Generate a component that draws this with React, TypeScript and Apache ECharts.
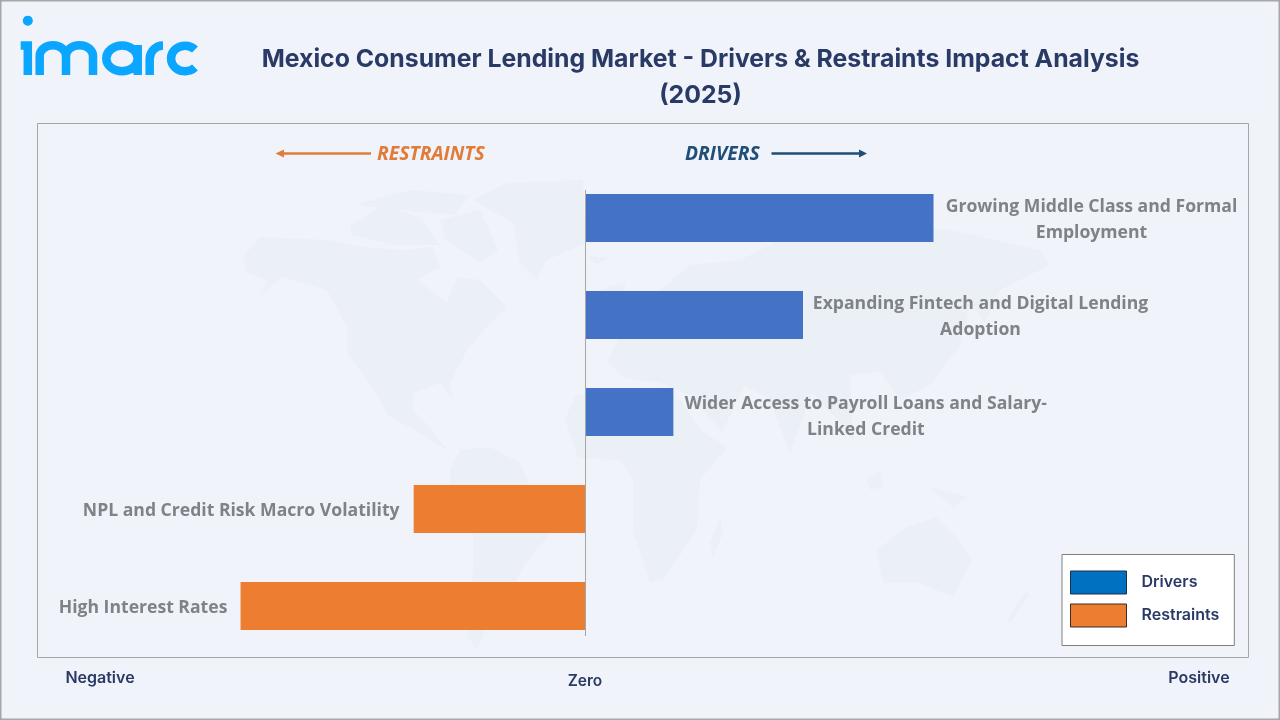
import React, { useEffect, useRef } from "react";
import * as echarts from "echarts";

const TITLE = "Mexico Consumer Lending Market - Drivers & Restraints Impact Analysis\n(2025)";
const categories = [
  "Growing Middle Class and Formal\nEmployment",
  "Expanding Fintech and Digital Lending\nAdoption",
  "Wider Access to Payroll Loans and Salary-\nLinked Credit",
  "NPL and Credit Risk Macro Volatility",
  "High Interest Rates",
];
const driverValues = [8.0, 5.0, 2.02, null, null];
const restraintValues = [null, null, null, -3.95, -7.93];
const labelWidths = [296, 335, 365, 317, 167];
const legendNames = ["Drivers", "Restraints"];
const axisWords = ["Negative", "Zero", "Positive"];

const LOGO_D =
  "M20.7,45.6 H27.8 V75 M39.7,75 V56 A13,10.6 0 0 1 66,56 V75 M66,56 A13.4,10.6 0 0 1 93,56 V75 " +
  "M137.7,45 V75 M137.7,58.4 A15.7,12.8 0 1 0 106.3,58.4 A15.7,12.8 0 1 0 137.7,58.4 " +
  "M149.7,75 V59 A13.5,13.4 0 0 1 163,45.6 M195,49.5 A14,12.8 0 1 0 195,67.5";
echarts.graphic.registerShape("imarcLogo", echarts.graphic.extendPath(LOGO_D, {}) as any);

const MAP_FILL = "#ebeff6";
const BG = "#f0f3f9";
const LAND: number[][][] = [
  [[243,257],[260,237],[327,240],[370,248],[407,250],[433,247],[440,267],[417,280],[447,303],[457,277],[480,280],[507,307],[487,327],[467,350],[450,383],[453,400],[440,383],[413,393],[413,410],[430,427],[447,450],[420,433],[390,417],[367,380],[347,353],[347,327],[327,290],[283,277],[260,295],[268,280],[247,273]],
  [[350,225],[385,205],[420,218],[440,245],[395,245],[352,235]],
  [[355,205],[410,190],[470,195],[455,215],[400,210]],
  [[440,220],[480,210],[498,250],[480,262],[445,240]],
  [[473,200],[507,183],[583,180],[585,243],[547,260],[537,280],[520,263],[513,223]],
  [[460,450],[490,447],[520,463],[550,533],[523,567],[513,587],[490,620],[477,650],[468,637],[473,570],[473,533],[450,500],[450,470]],
  [[565,420],[575,396],[620,388],[680,400],[700,430],[727,447],[700,480],[697,530],[663,580],[650,583],[633,530],[633,480],[620,460],[578,458]],
  [[720,517],[723,533],[713,557],[710,543]],
  [[608,362],[620,335],[650,320],[660,290],[690,265],[740,260],[790,235],[860,225],[950,230],[1040,250],[1050,265],[1000,290],[985,322],[970,305],[960,345],[930,385],[900,400],[880,372],[850,375],[853,440],[838,420],[812,392],[790,453],[770,400],[745,385],[722,432],[690,395],[660,383],[625,378]],
  [[587,257],[610,257],[597,264]],
  [[600,290],[625,282],[622,310],[606,312]],
  [[867,480],[880,470],[883,487],[870,490]],
  [[930,487],[967,497],[953,507]],
  [[877,550],[907,527],[937,517],[953,533],[972,560],[953,597],[920,583],[883,583]],
  [[1030,593],[1010,623],[1007,620],[1024,593]],
];

export default function App() {
  const ref = useRef<HTMLDivElement>(null);
  useEffect(() => {
    document.body.style.margin = "0";
    const chart = echarts.init(ref.current!, undefined, { renderer: "svg" });
    const sans = "Open Sans";
    const ui = "Inter";
    const navy = "#2a3a66";
    const grey = "#7f8388";
    const makeLabel = (position: string, distance: number) => ({
      show: true,
      position,
      distance,
      formatter: (p: any) =>
        String(p.name)
          .split("\n")
          .map((l: string) => `{c${p.dataIndex}|${l}}`)
          .join("\n"),
      rich: Object.fromEntries(
        labelWidths.map((w, i) => [
          `c${i}`,
          { width: w, align: "center", fontFamily: sans, fontWeight: 700, fontSize: 17.6, color: grey, lineHeight: 26 },
        ])
      ),
    });
    chart.setOption({
      animation: false,
      title: {
        text: TITLE,
        left: 695.5,
        top: 35,
        textAlign: "center",
        textStyle: { fontFamily: ui, fontWeight: 700, fontSize: 24.8, color: navy, lineHeight: 36 },
      },
      grid: { left: 63.5, width: 1174.5, top: 169.5, height: 485 },
      xAxis: { type: "value", min: -12, max: 15, show: false },
      yAxis: { type: "category", inverse: true, data: categories, show: false },
      legend: {
        orient: "vertical",
        left: 1062,
        top: 554.5,
        itemWidth: 56,
        itemHeight: 23,
        itemGap: 9,
        padding: [16, 15, 18, 8],
        backgroundColor: "#ffffff",
        borderColor: "#808080",
        borderWidth: 1,
        selectedMode: false,
        formatter: "{t|{name}}",
        textStyle: {
          rich: {
            t: { fontFamily: ui, fontWeight: 600, fontSize: 16, color: navy, padding: [0, 0, 3, 10] },
          },
        },
        data: [
          { name: legendNames[0], icon: "rect", itemStyle: { color: "#0070c0", borderColor: "#1f2f4a", borderWidth: 1 } },
          { name: legendNames[1], icon: "rect", itemStyle: { color: "#ed7d31", borderColor: "#3a2a20", borderWidth: 1 } },
        ],
      },
      series: [
        {
          name: legendNames[0],
          type: "bar",
          stack: "all",
          barWidth: 48,
          data: driverValues.map((value, i) => (i === 2 ? { value, label: { offset: [0, 3] } } : value)),
          itemStyle: { color: "#4472c4" },
          label: makeLabel("right", 10),
        },
        {
          name: legendNames[1],
          type: "bar",
          stack: "all",
          barWidth: 48,
          data: restraintValues,
          itemStyle: { color: "#ed7d31" },
          label: makeLabel("left", 14),
        },
      ],
      graphic: [
        { type: "rect", z: -10, shape: { x: 0.5, y: 0.5, width: 1279, height: 719 }, style: { fill: BG, stroke: "#a6a6a6", lineWidth: 2 } },
        ...LAND.map((points) => ({ type: "polygon", z: -9, shape: { points }, style: { fill: MAP_FILL } })),
        { type: "rect", z: -8, shape: { x: 37.5, y: 123.5, width: 1211, height: 534 }, style: { fill: "none", stroke: "#a6a6a6", lineWidth: 1 } },
        { type: "circle", z: 5, shape: { cx: 27.8, cy: 20.7, r: 5 }, style: { fill: "#0aa6ff" } },
        { type: "imarcLogo", z: 5, x: 0, y: 0, style: { fill: "none", stroke: "#0aa6ff", lineWidth: 8.5 } },
        { type: "line", z: 5, shape: { x1: 585.5, y1: 190, x2: 585.5, y2: 636 }, style: { stroke: "#a6a6a6", lineWidth: 1 } },
        { type: "line", z: 5, shape: { x1: 282, y1: 153.5, x2: 371, y2: 153.5 }, style: { stroke: "#e07b39", lineWidth: 2.5 } },
        { type: "polygon", z: 5, shape: { points: [[275.5, 153.5], [284, 149.5], [284, 157.5]] }, style: { fill: "#e07b39" } },
        { type: "line", z: 5, shape: { x1: 771.5, y1: 153.5, x2: 860, y2: 153.5 }, style: { stroke: "#1f4e79", lineWidth: 2.5 } },
        { type: "polygon", z: 5, shape: { points: [[867, 153.5], [859, 149.5], [859, 157.5]] }, style: { fill: "#1f4e79" } },
        { type: "text", z: 5, style: { text: "RESTRAINTS", x: 377, y: 152.5, verticalAlign: "middle", fontFamily: sans, fontStyle: "italic", fontWeight: 700, fontSize: 19.3, fill: "#e07b39" } },
        { type: "text", z: 5, style: { text: "DRIVERS", x: 685, y: 152.5, verticalAlign: "middle", fontFamily: sans, fontStyle: "italic", fontWeight: 700, fontSize: 19.3, fill: "#1f4e79" } },
        { type: "text", z: 5, style: { text: axisWords[0], x: 100, y: 677, align: "center", verticalAlign: "middle", fontFamily: ui, fontWeight: 600, fontSize: 16, fill: navy } },
        { type: "text", z: 5, style: { text: axisWords[1], x: 585, y: 680, align: "center", verticalAlign: "middle", fontFamily: ui, fontWeight: 600, fontSize: 15.5, fill: navy } },
        { type: "text", z: 5, style: { text: axisWords[2], x: 1199, y: 677, align: "center", verticalAlign: "middle", fontFamily: ui, fontWeight: 600, fontSize: 16, fill: navy } },
      ],
    });
    return () => chart.dispose();
  }, []);
  return <div ref={ref} style={{ position: "fixed", left: 0, top: 0, width: 1280, height: 720 }} />;
}
